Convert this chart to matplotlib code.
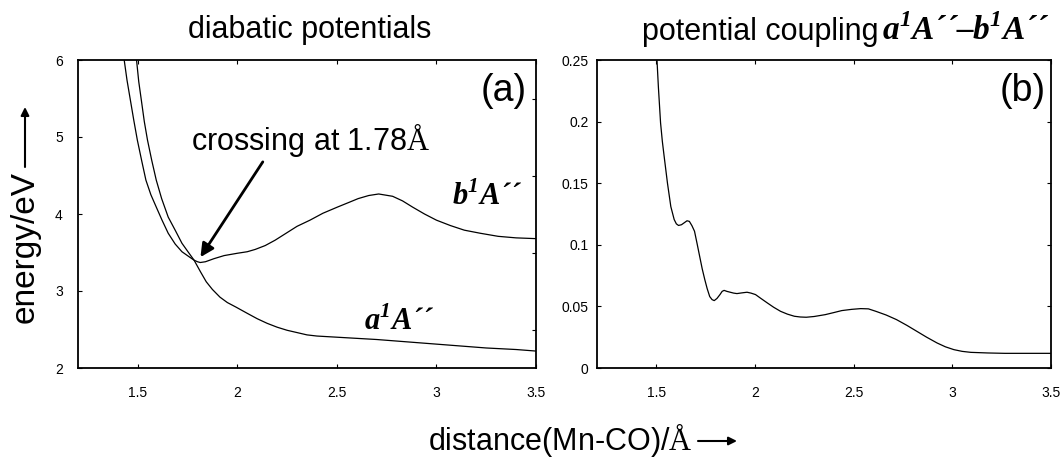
import matplotlib
matplotlib.use("Agg")
import matplotlib.pyplot as plt
from matplotlib.ticker import FixedLocator, FixedFormatter, MultipleLocator

plt.rcParams["font.family"] = ["Liberation Sans", "DejaVu Sans"]
plt.rcParams["mathtext.fontset"] = "custom"
plt.rcParams["mathtext.rm"] = "Liberation Serif"
plt.rcParams["mathtext.bfit"] = "Liberation Serif:italic:bold"

# diabatic state a1A'' : Mn-CO distance (Å) and energy (eV)
r_a = [1.494, 1.505, 1.518, 1.533, 1.549, 1.570, 1.593, 1.620, 1.653, 1.690,
       1.722, 1.755, 1.783, 1.815, 1.844, 1.875, 1.913, 1.950, 1.994, 2.05,
       2.10, 2.15, 2.20, 2.25, 2.30, 2.35, 2.40, 2.50, 2.60, 2.70, 2.80,
       2.90, 3.00, 3.10, 3.25, 3.40, 3.50]
e_a = [6.00, 5.72, 5.48, 5.20, 4.96, 4.70, 4.44, 4.20, 3.96, 3.78,
       3.62, 3.50, 3.40, 3.25, 3.12, 3.02, 2.92, 2.85, 2.79, 2.71,
       2.64, 2.58, 2.53, 2.49, 2.46, 2.43, 2.415, 2.40, 2.385, 2.37, 2.35,
       2.33, 2.31, 2.29, 2.26, 2.24, 2.22]

# diabatic state b1A''
r_b = [1.432, 1.446, 1.463, 1.480, 1.498, 1.520, 1.541, 1.566, 1.593, 1.622,
       1.653, 1.688, 1.722, 1.755, 1.783, 1.800, 1.814, 1.840, 1.883, 1.934,
       2.00, 2.05, 2.09, 2.14, 2.19, 2.245, 2.30, 2.365, 2.43, 2.503, 2.56,
       2.607, 2.66, 2.71, 2.78, 2.83, 2.88, 2.94, 3.00, 3.07, 3.14, 3.22,
       3.31, 3.40, 3.50]
e_b = [6.00, 5.74, 5.48, 5.22, 4.96, 4.69, 4.44, 4.25, 4.09, 3.92,
       3.75, 3.61, 3.51, 3.45, 3.40, 3.38, 3.37, 3.38, 3.42, 3.46,
       3.49, 3.51, 3.54, 3.59, 3.66, 3.75, 3.84, 3.92, 4.01, 4.09, 4.15,
       4.20, 4.24, 4.26, 4.23, 4.17, 4.09, 4.00, 3.92, 3.85, 3.79, 3.75,
       3.71, 3.69, 3.68]

# potential coupling a1A''-b1A''
r_c = [1.500, 1.511, 1.522, 1.531, 1.540, 1.557, 1.574, 1.591, 1.602, 1.613,
       1.628, 1.643, 1.656, 1.668, 1.681, 1.694, 1.707, 1.720, 1.733, 1.746,
       1.758, 1.771, 1.783, 1.794, 1.808, 1.823, 1.834, 1.844, 1.858, 1.875,
       1.892, 1.909, 1.935, 1.960, 1.980, 2.003, 2.030, 2.063, 2.095, 2.130,
       2.165, 2.200, 2.230, 2.260, 2.300, 2.356, 2.400, 2.440, 2.490, 2.536,
       2.575, 2.613, 2.665, 2.717, 2.770, 2.820, 2.870, 2.923, 2.965, 3.008,
       3.050, 3.094, 3.180, 3.266, 3.380, 3.500]
v_c = [0.262, 0.228, 0.199, 0.184, 0.172, 0.150, 0.131, 0.1205, 0.117, 0.1157,
       0.1163, 0.118, 0.1195, 0.119, 0.1155, 0.111, 0.101, 0.0907, 0.0805, 0.0718,
       0.0645, 0.0580, 0.0555, 0.0547, 0.0565, 0.0596, 0.0622, 0.0630, 0.0622, 0.0615,
       0.0608, 0.0604, 0.0610, 0.0615, 0.0608, 0.0596, 0.0565, 0.0528, 0.0493, 0.0460,
       0.0437, 0.0420, 0.0414, 0.0412, 0.0418, 0.0433, 0.0450, 0.0466, 0.0476, 0.0482,
       0.0480, 0.0460, 0.0430, 0.0393, 0.0346, 0.0298, 0.0250, 0.0203, 0.0172, 0.0149,
       0.0135, 0.0127, 0.0122, 0.0119, 0.0119, 0.0119]

x_ticks = [1.5, 2.0, 2.5, 3.0, 3.5]
x_tick_labels = ["1.5", "2", "2.5", "3", "3.5"]
e_ticks = [2, 3, 4, 5, 6]
e_tick_labels = ["2", "3", "4", "5", "6"]
c_ticks = [0.0, 0.05, 0.10, 0.15, 0.20, 0.25]
c_tick_labels = ["0", "0.05", "0.1", "0.15", "0.2", "0.25"]

# state names (bold italic serif, superscript multiplicity)
state_a = "$\\mathbfit{a}^{\\mathbfit{1}}\\mathbfit{A}$´´"
state_b = "$\\mathbfit{b}^{\\mathbfit{1}}\\mathbfit{A}$´´"

W, H = 1063, 458
fig = plt.figure(figsize=(W / 100, H / 100), dpi=100)


def px_axes(left, right, top, bottom):
    return fig.add_axes([left / W, 1 - bottom / H, (right - left) / W, (bottom - top) / H])


ax_a = px_axes(78, 536, 60, 368)
ax_b = px_axes(597, 1051, 60, 368)

line_kw = dict(color="black", lw=0.9)
ax_a.plot(r_a, e_a, **line_kw)
ax_a.plot(r_b, e_b, **line_kw)
ax_b.plot(r_c, v_c, **line_kw)

for ax in (ax_a, ax_b):
    ax.set_xlim(1.2, 3.5)
    ax.xaxis.set_major_locator(FixedLocator(x_ticks))
    ax.xaxis.set_major_formatter(FixedFormatter(x_tick_labels))
    ax.tick_params(which="both", direction="in", length=3, width=0.8,
                   top=True, right=True, labelsize=10, colors="black")
    ax.tick_params(axis="x", pad=13)
    for s in ax.spines.values():
        s.set_linewidth(1.3)

ax_a.set_ylim(2, 6)
ax_a.yaxis.set_major_locator(FixedLocator(e_ticks))
ax_a.yaxis.set_major_formatter(FixedFormatter(e_tick_labels))
ax_a.yaxis.set_minor_locator(MultipleLocator(0.5))
ax_a.tick_params(axis="y", which="minor", left=False, right=True, length=3)
ax_a.tick_params(axis="y", which="major", right=False, pad=11)

ax_b.set_ylim(0, 0.25)
ax_b.yaxis.set_major_locator(FixedLocator(c_ticks))
ax_b.yaxis.set_major_formatter(FixedFormatter(c_tick_labels))
ax_b.tick_params(axis="y", pad=6)

# panel letters
ax_a.text(3.455, 5.6, "(a)", fontsize=27, ha="right", va="center")
ax_b.text(3.474, 0.225, "(b)", fontsize=27, ha="right", va="center")

# state labels
state_kw = dict(family="Liberation Serif", style="italic", weight="bold", fontsize=22)
ax_a.text(3.08, 4.12, state_b, ha="left", va="baseline", **state_kw)
ax_a.text(2.635, 2.49, state_a, ha="left", va="baseline", **state_kw)

# crossing marker
ax_a.annotate("crossing at 1.78$\\mathrm{Å}$", xy=(1.815, 3.44), xytext=(1.765, 4.83),
              fontsize=22, ha="left", va="baseline",
              arrowprops=dict(arrowstyle="-|>", color="black", lw=2,
                              mutation_scale=20, shrinkA=0, shrinkB=0,
                              relpos=(0.31, 0.0)))

# titles
fig.text(310 / W, 1 - 38 / H, "diabatic potentials", fontsize=22,
         ha="center", va="baseline")
fig.text(878 / W, 1 - 40 / H, "potential coupling", fontsize=22,
         ha="right", va="baseline")
fig.text(882 / W, 1 - 40 / H,
         "$\\mathbfit{a}^{\\mathbfit{1}}\\mathbfit{A}$´´–$\\mathbfit{b}^{\\mathbfit{1}}\\mathbfit{A}$´´",
         ha="left", va="baseline",
         family="Liberation Serif", style="italic", weight="bold", fontsize=24)

# axis labels with direction arrows
fig.text(25 / W, 1 - 247 / H, "energy/eV", fontsize=24, rotation=90,
         ha="center", va="center")
fig.text(560 / W, 1 - 440 / H, "distance(Mn-CO)/$\\mathrm{Å}$", fontsize=22,
         ha="center", va="center")
arrow_kw = dict(arrowstyle="-|>", color="black", lw=1.5, mutation_scale=12,
                shrinkA=0, shrinkB=0)
ax_a.annotate("", xy=(25, H - 107), xytext=(25, H - 167),
              xycoords="figure pixels", textcoords="figure pixels",
              arrowprops=arrow_kw)
ax_a.annotate("", xy=(737, H - 441), xytext=(698, H - 441),
              xycoords="figure pixels", textcoords="figure pixels",
              arrowprops=arrow_kw)

fig.savefig("out.png", dpi=100)
